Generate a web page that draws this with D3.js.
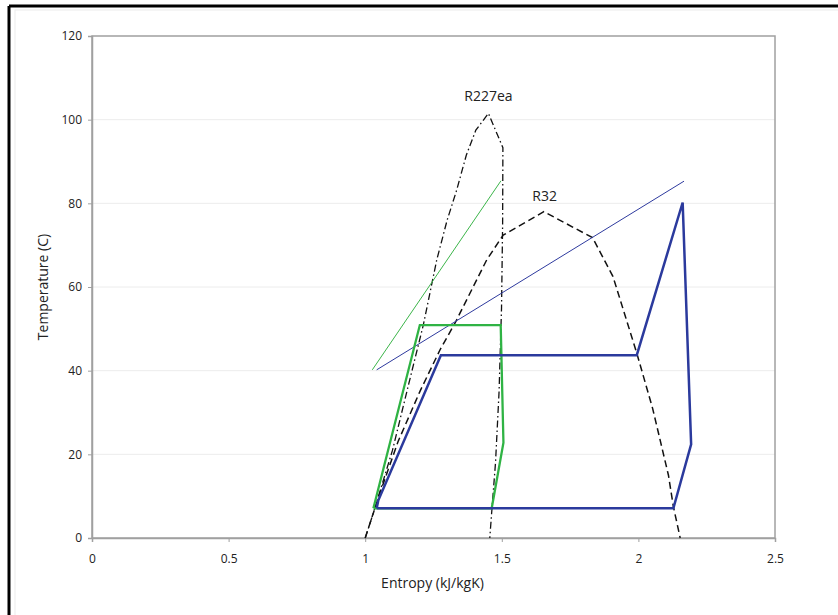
<!DOCTYPE html>
<html>
  <head>
    <title>Entropy vs temperature</title>
    <script src="https://d3js.org/d3.v7.min.js"></script>
    <style>
      body { margin: 0; background: #fff; }
      text { font-family: "Open Sans", "Noto Sans", sans-serif; fill: #222; }
    </style>
  </head>
  <body>
    <svg width="838" height="615"></svg>
    <script>
      // saturation domes, [entropy, temperature]
      const r227eaDome = [
        [1.0, 0], [1.03, 6], [1.1, 21], [1.16, 37], [1.213, 51], [1.262, 66.5],
        [1.3, 76], [1.335, 83.2], [1.37, 91.5], [1.405, 97.5], [1.451, 101.5], [1.504, 93.3],
        [1.503, 75], [1.499, 55], [1.49, 35], [1.477, 18], [1.464, 7], [1.456, 0]
      ];
      const r32Dome = [
        [1.0, 0], [1.05, 10], [1.12, 23], [1.2, 35], [1.274, 45], [1.329, 51.4],
        [1.408, 61.7], [1.445, 66.5], [1.505, 72.4], [1.654, 78], [1.832, 71.8],
        [1.907, 62.5], [1.994, 44.2], [2.052, 31], [2.11, 15], [2.128, 7.5], [2.153, 0]
      ];
      // refrigeration cycles
      const r227eaCycle = [
        [1.03, 7.1], [1.2, 50.9], [1.496, 50.9], [1.506, 22.8], [1.463, 7.1], [1.03, 7.1]
      ];
      const r32Cycle = [
        [1.042, 7.1], [1.048, 9], [1.277, 43.7], [1.994, 43.7], [2.162, 80.2],
        [2.193, 22.4], [2.128, 7.1], [1.042, 7.1]
      ];
      // heat sink lines
      const greenSink = [[1.026, 40.2], [1.497, 85.4]];
      const blueSink = [[1.042, 40.2], [2.167, 85.3]];

      const xTicks = [0, 0.5, 1, 1.5, 2, 2.5];
      const yTicks = [0, 20, 40, 60, 80, 100, 120];
      const domeLabels = [
        { name: "R227ea", x: 1.451, y: 104.5 },
        { name: "R32", x: 1.657, y: 80.5 }
      ];

      const svg = d3.select("svg");

      // outer frame
      svg.append("rect").attr("x", 15).attr("y", 10).attr("width", 840).attr("height", 620)
        .attr("fill", "none").attr("stroke", "#ececec");
      svg.append("line").attr("x1", 9).attr("x2", 838).attr("y1", 6).attr("y2", 6)
        .attr("stroke", "#000").attr("stroke-width", 3);
      svg.append("line").attr("x1", 9).attr("x2", 9).attr("y1", 6).attr("y2", 615)
        .attr("stroke", "#000").attr("stroke-width", 3);

      const m = { left: 92, right: 775, top: 36, bottom: 538 };
      const x = d3.scaleLinear().domain([0, 2.5]).range([m.left, m.right]);
      const y = d3.scaleLinear().domain([0, 120]).range([m.bottom, m.top]);

      // gridlines
      svg.append("g").selectAll("line").data(yTicks.slice(1, -1)).join("line")
        .attr("x1", m.left).attr("x2", m.right)
        .attr("y1", d => y(d)).attr("y2", d => y(d))
        .attr("stroke", "#ececec");

      // plot box
      svg.append("rect").attr("x", m.left).attr("y", m.top)
        .attr("width", m.right - m.left).attr("height", m.bottom - m.top)
        .attr("fill", "none").attr("stroke", "#a0a0a0").attr("stroke-width", 1.5);

      const xAxis = svg.append("g").attr("transform", `translate(0,${m.bottom})`)
        .call(d3.axisBottom(x).tickValues(xTicks).tickFormat(d3.format("")).tickSize(4).tickPadding(12));
      const yAxis = svg.append("g").attr("transform", `translate(${m.left},0)`)
        .call(d3.axisLeft(y).tickValues(yTicks).tickSize(4).tickPadding(6));
      [xAxis, yAxis].forEach(a => {
        a.select(".domain").attr("stroke", "#a0a0a0").attr("stroke-width", 1.5);
        a.selectAll(".tick line").attr("stroke", "#a0a0a0");
        a.selectAll(".tick text").attr("font-size", 12).attr("fill", "#222")
          .style("font-family", "'Open Sans', sans-serif");
      });

      const line = d3.line().x(d => x(d[0])).y(d => y(d[1]));

      svg.append("path").datum(r227eaDome).attr("d", line)
        .attr("fill", "none").attr("stroke", "#111").attr("stroke-width", 1.3)
        .attr("stroke-dasharray", "7,3,1.5,3");
      svg.append("path").datum(r32Dome).attr("d", line)
        .attr("fill", "none").attr("stroke", "#111").attr("stroke-width", 1.5)
        .attr("stroke-dasharray", "7,4");

      svg.append("path").datum(greenSink).attr("d", line)
        .attr("fill", "none").attr("stroke", "#3cb54a").attr("stroke-width", 1);
      svg.append("path").datum(blueSink).attr("d", line)
        .attr("fill", "none").attr("stroke", "#2e3a9e").attr("stroke-width", 1);

      svg.append("path").datum(r227eaCycle).attr("d", line)
        .attr("fill", "none").attr("stroke", "#2fb344").attr("stroke-width", 2.3)
        .attr("stroke-linejoin", "miter");
      svg.append("path").datum(r32Cycle).attr("d", line)
        .attr("fill", "none").attr("stroke", "#2b3a9d").attr("stroke-width", 2.5)
        .attr("stroke-linejoin", "miter");

      svg.append("g").selectAll("text").data(domeLabels).join("text")
        .attr("x", d => x(d.x)).attr("y", d => y(d.y))
        .attr("text-anchor", "middle").attr("font-size", 14)
        .text(d => d.name);

      svg.append("text").attr("x", (m.left + m.right) / 2 - 1).attr("y", 588)
        .attr("text-anchor", "middle").attr("font-size", 14)
        .text("Entropy (kJ/kgK)");
      svg.append("text")
        .attr("transform", `translate(48,${(m.top + m.bottom) / 2}) rotate(-90)`)
        .attr("text-anchor", "middle").attr("font-size", 14)
        .text("Temperature (C)");
    </script>
  </body>
</html>
